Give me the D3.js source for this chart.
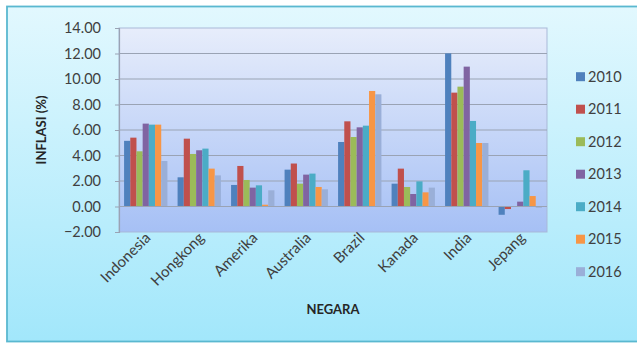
<!DOCTYPE html>
<html><head><meta charset="utf-8">
<script src="https://cdn.jsdelivr.net/npm/d3@7"></script>
<style>body{margin:0;background:#fff;}svg{display:block;}text{font-family:Lato,"Open Sans",sans-serif;}</style>
</head><body>
<svg id="c" width="637" height="343"></svg>
<script>
const categories = ["Indonesia","Hongkong","Amerika","Australia","Brazil","Kanada","India","Jepang"];
const years = ["2010","2011","2012","2013","2014","2015","2016"];
const v2010 = [5.15, 2.29, 1.69, 2.89, 5.06, 1.79, 12.01, -0.65];
const v2011 = [5.40, 5.32, 3.18, 3.37, 6.68, 2.97, 8.93, -0.20];
const v2012 = [4.33, 4.12, 2.08, 1.79, 5.45, 1.53, 9.40, -0.03];
const v2013 = [6.50, 4.41, 1.48, 2.50, 6.21, 0.98, 10.97, 0.38];
const v2014 = [6.42, 4.54, 1.66, 2.58, 6.34, 1.97, 6.71, 2.84];
const v2015 = [6.42, 2.97, 0.14, 1.53, 9.06, 1.11, 4.98, 0.82];
const v2016 = [3.57, 2.44, 1.27, 1.35, 8.80, 1.48, 4.98, -0.10];
const seriesValues = [v2010, v2011, v2012, v2013, v2014, v2015, v2016];
const yTicks = [-2, 0, 2, 4, 6, 8, 10, 12, 14];
const colors = ["#4F81BD","#C0504D","#9BBB59","#8064A2","#4BACC6","#F79646","#9AAFD8"];

const svg = d3.select("#c");
const defs = svg.append("defs");
const bg = defs.append("linearGradient").attr("id","bg").attr("x1",0).attr("y1",0).attr("x2",0).attr("y2",1);
bg.append("stop").attr("offset","0%").attr("stop-color","#e2f8fe");
bg.append("stop").attr("offset","100%").attr("stop-color","#a2e7fb");
const pg = defs.append("linearGradient").attr("id","pg").attr("x1",0).attr("y1",0).attr("x2",0).attr("y2",1);
pg.append("stop").attr("offset","0%").attr("stop-color","#e7edfb");
pg.append("stop").attr("offset","100%").attr("stop-color","#a6c0f5");

svg.append("rect").attr("x",7).attr("y",6.5).attr("width",640).attr("height",335)
  .attr("fill","url(#bg)").attr("stroke","#5ab8d0").attr("stroke-width",1.8);

const L = 119, R = 547, T = 28, B = 232;
const x = d3.scaleBand().domain(categories).range([L, R]).paddingInner(0.19).paddingOuter(0.095);
const xs = d3.scaleBand().domain(years).range([0, x.bandwidth()]);
const y = d3.scaleLinear().domain([-2, 14]).range([B, T]);

svg.append("rect").attr("x",L).attr("y",T).attr("width",R-L).attr("height",B-T)
  .attr("fill","url(#pg)").attr("stroke","#a9b9d8").attr("stroke-width",1);

svg.append("g").selectAll("line").data(yTicks.filter(d=>d>-2 && d<14)).join("line")
  .attr("x1",L).attr("x2",R).attr("y1",d=>y(d)).attr("y2",d=>y(d))
  .attr("stroke","#9aa3b4").attr("stroke-width",1.2);

const yAxis = svg.append("g").attr("transform",`translate(${L},0)`)
  .call(d3.axisLeft(y).tickValues(yTicks).tickFormat(d3.format(".2f")).tickSize(4).tickPadding(14));
yAxis.select(".domain").attr("stroke","#9aa3b4").attr("stroke-width",1.2);
yAxis.selectAll(".tick line").attr("stroke","#9aa3b4");
yAxis.selectAll(".tick text").attr("font-size",14.5).attr("fill","#404040").attr("font-family","Lato,sans-serif");

// bars
seriesValues.forEach((vals, si) => {
  svg.append("g").selectAll("rect").data(vals).join("rect")
    .attr("x",(d,i)=>x(categories[i]) + xs(years[si]))
    .attr("width", xs.bandwidth())
    .attr("y", d => y(Math.max(0,d)))
    .attr("height", d => Math.abs(y(d) - y(0)))
    .attr("fill", colors[si]);
});

// x axis line at 0
svg.append("line").attr("x1",L).attr("x2",R).attr("y1",y(0)).attr("y2",y(0))
  .attr("stroke","#9aa3b4").attr("stroke-width",1.2);

// category labels
svg.append("g").selectAll("text").data(categories).join("text")
  .attr("transform", d => `translate(${x(d)+x.bandwidth()/2+2},${B+3}) rotate(-45)`)
  .attr("text-anchor","end").attr("dy","0.35em")
  .attr("font-size",15).attr("fill","#404040").text(d=>d);

// axis titles
svg.append("text").attr("transform","translate(46,130) rotate(-90)")
  .attr("text-anchor","middle").attr("font-size",13).attr("font-weight","bold").attr("fill","#262626")
  .text("INFLASI (%)");
svg.append("text").attr("x",333).attr("y",314).attr("text-anchor","middle")
  .attr("font-size",13).attr("font-weight","bold").attr("fill","#262626").text("NEGARA");

// legend
const lg = svg.append("g").selectAll("g").data(years).join("g")
  .attr("transform",(d,i)=>`translate(576,${76.7 + i*32.5})`);
lg.append("rect").attr("x",0).attr("y",-4.5).attr("width",9).attr("height",9).attr("fill",(d,i)=>colors[i]);
lg.append("text").attr("x",12).attr("dy","0.36em").attr("font-size",14.5).attr("fill","#404040").text(d=>d);
</script>
</body></html>
